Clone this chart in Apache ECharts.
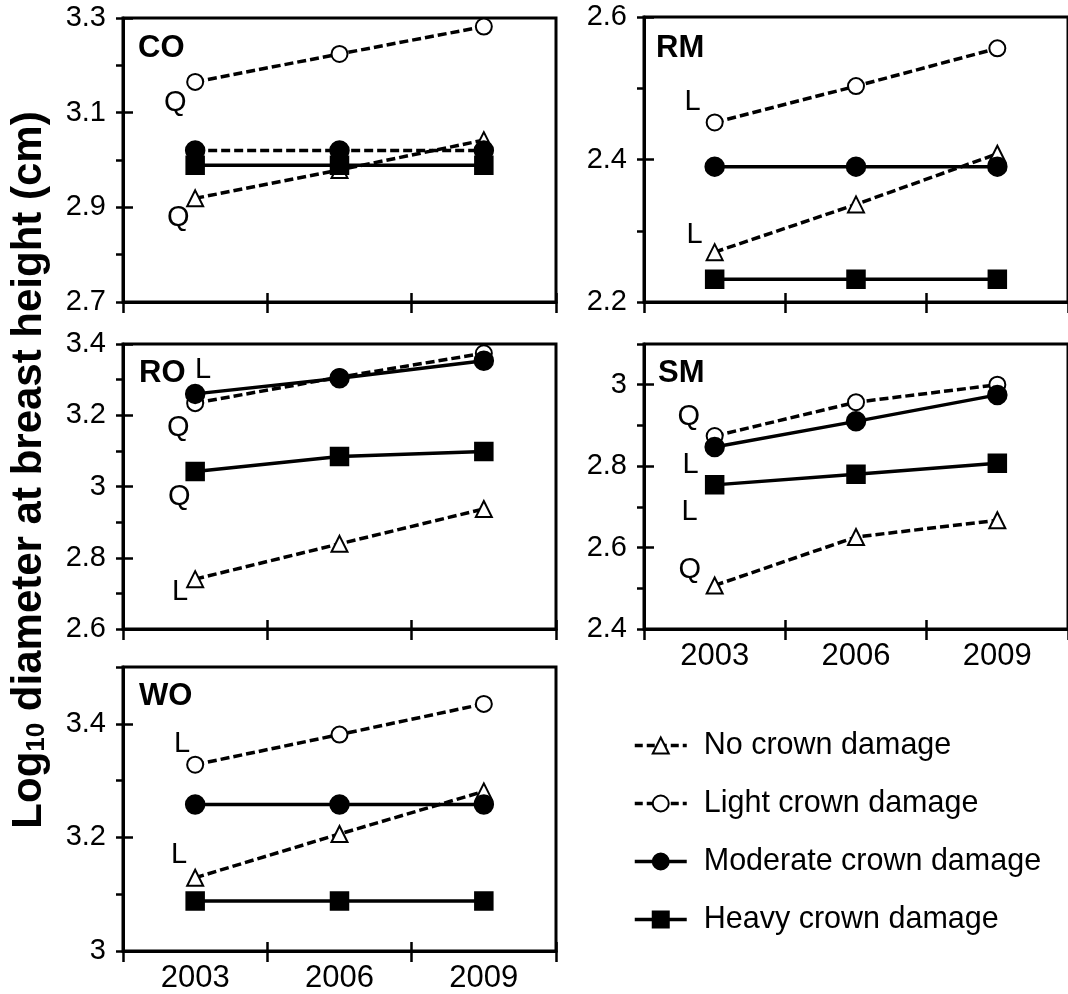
<!DOCTYPE html>
<html>
<head>
<meta charset="UTF-8">
<title>Log10 DBH by crown damage</title>
<script src="https://cdn.jsdelivr.net/npm/echarts@6/dist/echarts.min.js"></script>
</head>
<body style="margin:0;background:#fff;">
<div id="container" style="width:1068px;height:994px;"></div>
<script>
// data
var years = ['2003', '2006', '2009'];
var seriesNames = ['No crown damage', 'Light crown damage', 'Moderate crown damage', 'Heavy crown damage'];
var panelNames = ['CO', 'RM', 'RO', 'SM', 'WO'];

// rows: no, light, moderate, heavy
var coData = [[2.919, 2.979, 3.042], [3.165, 3.224, 3.282], [3.020, 3.020, 3.020], [2.989, 2.989, 2.989]];
var rmData = [[2.270, 2.337, 2.408], [2.452, 2.503, 2.556], [2.390, 2.390, 2.390], [2.232, 2.232, 2.232]];
var roData = [[2.740, 2.839, 2.937], [3.234, 3.307, 3.374], [3.260, 3.304, 3.353], [3.042, 3.084, 3.098]];
var smData = [[2.507, 2.626, 2.667], [2.874, 2.957, 3.000], [2.847, 2.910, 2.975], [2.754, 2.780, 2.807]];
var woData = [[3.129, 3.206, 3.281], [3.328, 3.381, 3.435], [3.258, 3.258, 3.258], [3.088, 3.088, 3.088]];
var panelData = [coData, rmData, roData, smData, woData];

var yMin = [2.7, 2.2, 2.6, 2.4, 3.0];
var yMax = [3.3, 2.6, 3.4, 3.1, 3.5];
var yMajor = [[2.7, 2.9, 3.1, 3.3], [2.2, 2.4, 2.6], [2.6, 2.8, 3.0, 3.2, 3.4], [2.4, 2.6, 2.8, 3.0], [3.0, 3.2, 3.4]];

// fit annotations: [panel, series, text]
var fitNotes = [
  [0, 1, 'Q'], [0, 0, 'Q'],
  [1, 1, 'L'], [1, 0, 'L'],
  [2, 2, 'L'], [2, 1, 'Q'], [2, 3, 'Q'], [2, 0, 'L'],
  [3, 1, 'Q'], [3, 2, 'L'], [3, 3, 'L'], [3, 0, 'Q'],
  [4, 1, 'L'], [4, 0, 'L']
];
var noteOffsets = [
  [-20, 21], [-17, 20],
  [-22, -20], [-20, -17],
  [8, -24], [-17, 25], [-16, 25], [-15, 13],
  [-26, -19], [-24, 18], [-25, 27], [-25, -15],
  [-13, -21], [-16, -23]
];

var font = "'Liberation Sans', Arial, sans-serif";
var grids = [
  {left: 123, top: 18, width: 433, height: 284},
  {left: 644, top: 17, width: 432, height: 285},
  {left: 123, top: 344, width: 433, height: 285},
  {left: 644, top: 344, width: 432, height: 285},
  {left: 123, top: 667, width: 433, height: 285}
];
var titlePos = [[138, 33], [656, 33], [139, 358], [658, 358], [139, 681]];
var symbols = ['emptyTriangle', 'emptyCircle', 'circle', 'rect'];
var symbolSizes = [16, 16, 18, 17];
var dashed = [true, true, false, false];

var myChart = echarts.init(document.getElementById('container'));

var option = {
  animation: false,
  backgroundColor: '#fff',
  title: panelNames.map(function (n, i) {
    return {text: n, left: titlePos[i][0], top: titlePos[i][1], padding: 0,
      textStyle: {fontSize: 31, fontWeight: 'bold', color: '#000', fontFamily: font}};
  }),
  legend: {
    orient: 'vertical', left: 633, top: 730, itemGap: 27, itemWidth: 52, itemHeight: 20,
    selectedMode: false, padding: 0,
    textStyle: {fontSize: 30.5, color: '#000', fontFamily: font, padding: [0, 0, 0, 12]},
    data: seriesNames.map(function (n, j) {
      return {name: n, lineStyle: {type: dashed[j] ? [8, 4] : 'solid', width: 3.5, color: '#000'}};
    })
  },
  grid: grids.map(function (g) {
    return Object.assign({show: true, borderColor: '#000', borderWidth: 3}, g);
  }),
  xAxis: [],
  yAxis: [],
  series: [],
  graphic: [{
    type: 'text', x: 29, y: 470, rotation: Math.PI / 2,
    style: {
      text: '{a|Log}{b|10}{a| diameter at breast height (cm)}',
      align: 'center', verticalAlign: 'middle', fill: '#000',
      rich: {
        a: {fontSize: 42, fontWeight: 'bold', fontFamily: font, fill: '#000'},
        b: {fontSize: 26, fontWeight: 'bold', fontFamily: font, fill: '#000', verticalAlign: 'bottom'}
      }
    }
  }]
};

panelNames.forEach(function (n, i) {
  var showX = (i === 3 || i === 4);
  // outer ticks + labels
  option.xAxis.push({
    type: 'category', gridIndex: i, data: years, position: 'bottom', boundaryGap: true,
    axisLine: {lineStyle: {color: '#000', width: 3}},
    axisTick: {show: true, interval: 0, length: 11, lineStyle: {color: '#000', width: 2.5}},
    axisLabel: {show: showX, interval: 0, fontSize: 31, color: '#000', fontFamily: font, margin: 12},
    splitLine: {show: false}
  });
  // inner ticks
  option.xAxis.push({
    type: 'category', gridIndex: i, data: years, position: 'bottom', boundaryGap: true,
    axisLine: {show: false},
    axisTick: {show: true, inside: true, interval: 0, length: 9, lineStyle: {color: '#000', width: 2.5}},
    axisLabel: {show: false}, splitLine: {show: false}
  });
  option.yAxis.push({
    type: 'value', gridIndex: i, position: 'left', min: yMin[i], max: yMax[i], interval: 0.1,
    axisLine: {show: true, lineStyle: {color: '#000', width: 3}},
    axisTick: {show: true, length: 7, lineStyle: {color: '#000', width: 2.5}},
    axisLabel: {show: false}, splitLine: {show: false}
  });
  option.yAxis.push({
    type: 'value', gridIndex: i, position: 'left', min: yMin[i], max: yMax[i],
    axisLine: {show: false},
    axisTick: {show: true, inside: true, length: 10, customValues: yMajor[i], lineStyle: {color: '#000', width: 2.5}},
    axisLabel: {show: true, customValues: yMajor[i], fontSize: 29, color: '#000', fontFamily: font, margin: 17,
      formatter: function (v) { return String(+(+v).toFixed(1)); }},
    splitLine: {show: false}
  });

  panelData[i].forEach(function (vals, j) {
    var data = vals.map(function (v) { return v; });
    fitNotes.forEach(function (f, k) {
      if (f[0] === i && f[1] === j) {
        data[0] = {value: vals[0], label: {show: true, formatter: f[2], position: 'inside',
          offset: noteOffsets[k], fontSize: 29, color: '#000', fontFamily: font}};
      }
    });
    var isDashed = dashed[j] || (i === 0 && j === 2);
    option.series.push({
      type: 'line', name: seriesNames[j], xAxisIndex: 2 * i, yAxisIndex: 2 * i, data: data,
      symbol: symbols[j], symbolSize: symbolSizes[j], showAllSymbol: true,
      lineStyle: {color: '#000', width: 3.5, type: isDashed ? [9, 4] : 'solid'},
      itemStyle: {color: '#000', borderColor: '#000', borderWidth: 2.5},
      label: {show: false},
      emphasis: {disabled: true},
      z: 3 + j
    });
  });
});

myChart.setOption(option);
</script>
</body>
</html>
